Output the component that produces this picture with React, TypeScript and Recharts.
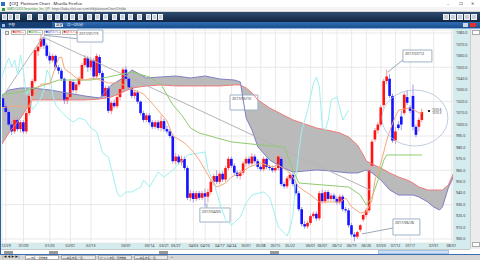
import React from 'react';
import {
  Area,
  Bar,
  CartesianGrid,
  ComposedChart,
  Line,
  ReferenceArea,
  ReferenceDot,
  ReferenceLine,
  XAxis,
  YAxis,
} from 'recharts';

const FONT = '"Noto Sans", "Noto Sans CJK JP", sans-serif';

// daily candles: [open, high, low, close]
const candles: number[][] = [
  [1023, 1026, 1013, 1015], [1016, 1019, 1009, 1011], [1011, 1013, 998, 1000], [1000, 1003, 991, 994],
  [994, 1006, 992, 1004], [1004, 1006, 994, 996], [996, 1004, 993, 1002], [1002, 1004, 992, 994],
  [994, 1012, 992, 1010], [1010, 1027, 1008, 1025], [1025, 1040, 1022, 1038], [1038, 1067, 1036, 1065],
  [1064, 1070, 1060, 1068], [1068, 1079, 1066, 1075], [1075, 1077, 1066, 1069], [1069, 1071, 1058, 1060],
  [1060, 1063, 1053, 1056], [1056, 1062, 1054, 1060], [1060, 1061, 1048, 1050], [1050, 1052, 1044, 1047],
  [1047, 1049, 1038, 1040], [1040, 1041, 1018, 1021], [1021, 1027, 1018, 1024], [1024, 1040, 1022, 1038],
  [1037, 1039, 1028, 1030], [1030, 1037, 1027, 1035], [1035, 1042, 1033, 1040], [1040, 1054, 1038, 1052],
  [1052, 1061, 1050, 1058], [1058, 1060, 1046, 1050], [1050, 1059, 1047, 1056], [1056, 1058, 1040, 1042],
  [1042, 1062, 1040, 1060], [1059, 1061, 1043, 1045], [1045, 1047, 1023, 1025], [1025, 1034, 1022, 1032],
  [1032, 1034, 1010, 1012], [1012, 1021, 1009, 1019], [1019, 1022, 1014, 1016], [1016, 1026, 1014, 1024],
  [1024, 1033, 1021, 1031], [1031, 1050, 1029, 1048], [1048, 1051, 1038, 1040], [1040, 1042, 1030, 1032],
  [1032, 1034, 1023, 1025], [1025, 1030, 1022, 1028], [1028, 1030, 1018, 1020], [1020, 1021, 1008, 1010],
  [1010, 1012, 1002, 1004], [1004, 1010, 1002, 1008], [1008, 1010, 1000, 1002], [1002, 1004, 996, 998],
  [998, 1004, 996, 1002], [1002, 1004, 995, 997], [997, 1008, 994, 1003], [1003, 1005, 994, 996],
  [996, 999, 992, 994], [994, 996, 988, 990], [990, 992, 966, 968], [968, 975, 965, 972],
  [972, 974, 965, 967], [967, 973, 964, 970], [970, 972, 960, 962], [962, 964, 934, 936],
  [936, 943, 933, 940], [940, 942, 932, 935], [935, 942, 933, 940], [940, 942, 934, 936],
  [936, 942, 934, 940], [940, 944, 928, 937], [937, 944, 932, 941], [941, 952, 939, 950],
  [950, 957, 947, 955], [955, 960, 948, 950], [950, 959, 948, 957], [957, 959, 950, 952],
  [952, 964, 950, 962], [962, 972, 960, 970], [970, 972, 962, 964], [964, 966, 956, 958],
  [958, 960, 953, 955], [955, 960, 952, 958], [958, 968, 956, 966], [966, 972, 963, 970],
  [970, 972, 964, 966], [966, 975, 964, 972], [972, 974, 966, 968], [968, 970, 961, 963],
  [963, 965, 959, 961], [961, 972, 959, 970], [970, 971, 961, 963], [963, 965, 960, 962],
  [962, 964, 958, 960], [960, 964, 958, 962], [962, 974, 960, 972], [970, 972, 946, 948],
  [948, 950, 944, 946], [946, 955, 944, 953], [953, 958, 951, 956], [956, 958, 946, 948],
  [948, 950, 938, 940], [940, 942, 924, 926], [926, 928, 911, 913], [913, 916, 909, 911],
  [911, 916, 909, 914], [914, 922, 912, 920], [920, 924, 918, 922], [922, 924, 916, 918],
  [918, 942, 916, 940], [940, 943, 931, 933], [933, 943, 931, 941], [941, 943, 933, 935],
  [935, 940, 933, 938], [938, 940, 933, 935], [935, 937, 930, 932], [932, 939, 930, 937],
  [937, 939, 924, 926], [926, 928, 923, 925], [925, 927, 910, 912], [912, 914, 902, 904],
  [904, 906, 898, 902], [902, 907, 900, 906], [908, 913, 906, 912], [917, 922, 915, 921],
  [921, 927, 919, 925], [925, 962, 923, 960], [964, 987, 962, 985], [987, 997, 985, 995],
  [995, 1002, 992, 1000], [1000, 1017, 998, 1015], [1017, 1040, 1015, 1038], [1038, 1048, 1035, 1042],
  [1040, 1044, 1023, 1025], [1025, 1027, 984, 986], [986, 998, 983, 994], [1000, 1003, 995, 997],
  [1007, 1012, 995, 1000], [1010, 1028, 1008, 1026], [1024, 1030, 1017, 1019], [1015, 1017, 1010, 1012],
  [1025, 1035, 995, 998], [998, 1000, 989, 991], [998, 1006, 994, 1004], [1004, 1014, 1002, 1011],
];

// ichimoku cloud (senkou span 1 / 2), bar index -> price
const cloudIdx = [-1, 2, 6, 10, 16, 22, 28, 33, 37, 41, 44, 49, 54, 59, 64, 69, 74, 79, 81, 83, 85, 87, 91, 95, 99, 103, 107, 112, 115, 118, 121, 123, 124, 126, 129, 132, 135, 138, 140, 142, 145, 147, 149, 150, 152, 154];
const spanA = [980.4, 992.6, 1005.7, 1021.5, 1021.5, 1021.5, 1021.5, 1022.3, 1024.1, 1028.4, 1031.9, 1033.7, 1034.6, 1033.7, 1033.7, 1033.7, 1033.7, 1034.6, 1034.6, 1031.9, 1027.6, 1021.5, 1014.5, 1009.2, 1004.0, 1000.5, 997.0, 994.4, 992.6, 989.1, 982.1, 973.4, 968.2, 965.5, 962.0, 957.7, 954.2, 951.5, 948.9, 945.4, 942.8, 942.8, 942.8, 942.8, 947.2, 958.5];
const spanB = [1024.1, 1030.2, 1031.9, 1031.9, 1030.2, 1027.6, 1024.9, 1023.2, 1034.6, 1040.7, 1047.7, 1040.7, 1041.6, 1042.4, 1040.7, 1042.4, 1039.8, 1038.9, 1037.2, 1005.7, 995.2, 980.4, 969.0, 962.9, 958.5, 959.4, 960.3, 959.4, 958.5, 957.7, 957.7, 959.4, 960.3, 957.7, 951.5, 942.8, 938.4, 938.4, 938.4, 936.7, 932.3, 928.0, 925.3, 928.0, 944.6, 955.9];

// tenkan-sen (9)
const tenkanIdx = [-1, 4, 9, 11, 13, 16, 17, 18, 19, 20, 21, 23, 25, 28, 31, 36, 40, 43, 48, 52, 56, 58, 62, 65, 67, 71, 73, 76, 78, 81, 84, 88, 92, 94, 98, 101, 105, 108, 115, 117, 119, 122, 124, 126, 127, 129, 131, 133, 135, 139, 142, 143];
const tenkan = [1014.5, 1016.2, 1015.3, 1028.4, 1035.4, 1035.4, 1043.3, 1051.2, 1058.2, 1059.0, 1048.5, 1045.0, 1040.7, 1038.9, 1040.7, 1036.3, 1036.3, 1031.9, 1026.7, 1015.3, 1003.1, 990.0, 983.9, 976.0, 969.0, 951.5, 945.4, 948.9, 954.2, 957.7, 962.9, 966.4, 962.9, 964.7, 957.7, 945.4, 938.4, 932.3, 932.3, 935.8, 928.0, 922.7, 923.6, 934.1, 951.5, 966.4, 986.5, 1001.4, 1012.7, 1014.5, 1010.1, 1010.1];

// kijun-sen (26)
const kijunIdx = [-1, 6, 13, 19, 30, 36, 44, 50, 54, 58, 61, 64, 67, 73, 78, 88, 96, 99, 101, 118, 122, 124, 126, 128, 130, 131, 143];
const kijun = [1025.8, 1028.4, 1033.7, 1038.9, 1038.9, 1041.6, 1045.9, 1041.6, 1034.6, 1017.1, 1008.3, 997.0, 992.6, 988.3, 984.8, 982.1, 980.4, 960.3, 948.9, 945.4, 938.4, 929.7, 936.7, 951.5, 969.0, 973.4, 973.4];

// chikou span (lagging line)
const chikouIdx = [-1, 1, 2, 3, 4, 5, 6, 7, 8, 9, 10, 12, 13, 14, 15, 16, 17, 18, 20, 22, 24, 26, 28, 30, 32, 34, 36, 39, 40, 42, 44, 47, 48, 50, 53, 55, 58, 63, 67, 69, 70, 72, 74, 76, 78, 81, 83, 85, 89, 91, 92, 94, 97, 98, 99, 100, 101, 102, 104, 106, 107, 108, 109, 110, 111, 112, 114, 116, 118];
const chikou = [1037.2, 1052.0, 1058.2, 1050.3, 1056.4, 1043.3, 1060.8, 1045.9, 1025.8, 1031.9, 1012.7, 1019.7, 1023.2, 1030.2, 1047.7, 1042.4, 1025.8, 1017.1, 1011.0, 1005.7, 1002.2, 1005.7, 1004.0, 997.0, 993.5, 975.1, 971.6, 940.2, 936.7, 941.1, 941.1, 945.4, 951.5, 945.4, 958.5, 954.2, 960.3, 973.4, 975.1, 976.0, 960.3, 948.9, 931.5, 916.6, 912.2, 919.2, 931.5, 938.4, 941.1, 936.7, 928.0, 910.5, 902.6, 909.6, 921.0, 953.3, 977.8, 995.2, 1012.7, 1036.3, 1041.6, 1032.8, 997.9, 995.2, 1004.0, 1021.5, 1024.1, 1004.0, 1012.7];

const tickIdx = [1, 7, 16, 23, 30, 42, 50, 55, 59, 65, 69, 74, 78, 83, 88, 93, 98, 105, 109, 114, 119, 124, 129, 134, 139, 147, 153];
const tickLabels = ['12/29', '01/09', '01/20', '02/01', '02/13', '03/01', '03/14', '03/21', '03/27', '04/03', '04/10', '04/17', '04/24', '05/01', '05/08', '05/15', '05/22', '06/01', '06/07', '06/12', '06/19', '06/26', '07/03', '07/12', '07/17', '07/31', '08/07'];
const priceTicks = [900, 910, 920, 930, 940, 950, 960, 970, 980, 990, 1000, 1010, 1020, 1030, 1040, 1050, 1060, 1070, 1080];

const candleData = candles.map(([o, h, l, c], i) => ({ i, o, h, l, c }));
const cloudData = cloudIdx.map((i, k) => ({ i, a: spanA[k], b: spanB[k], band: [spanB[k], spanA[k]] }));
const series = (idx: number[], v: number[]) => idx.map((i, k) => ({ i, v: v[k] }));

const Candle = (props: any) => {
  const { x, y, width, height, payload } = props;
  if (!payload) return null;
  const top = Math.min(y, y + height);
  const hh = Math.abs(height);
  const k = hh / (payload.h - payload.l || 1);
  const up = payload.c >= payload.o;
  const bodyTop = top + (payload.h - Math.max(payload.o, payload.c)) * k;
  const bodyH = Math.max(1, Math.abs(payload.c - payload.o) * k);
  const cx = x + width / 2;
  return (
    <g>
      <line x1={cx} x2={cx} y1={top} y2={top + hh} stroke={up ? '#f49a9a' : '#9c9cf2'} strokeWidth={1} />
      <rect x={x} y={bodyTop} width={width} height={bodyH} fill={up ? '#ff1414' : '#1414ff'} />
    </g>
  );
};

const noteLabel = (text: string) => ({ value: text, position: 'insideTopLeft' as const, offset: 2, fontSize: 3.6, fill: '#333' });

const abs = (l: number, t: number, w: number, h: number, extra: React.CSSProperties = {}): React.CSSProperties => ({
  position: 'absolute', left: l, top: t, width: w, height: h, boxSizing: 'border-box', ...extra,
});

const toolIcons = [2, 8, 15, 27, 38, 47, 55, 63, 70, 78, 87, 95, 103, 112, 120, 128, 137, 146, 152, 158];

const legendTag = (l: number, w: number, color: string): React.CSSProperties =>
  abs(l, 0, w, 4.5, { border: '1px solid #bbb', background: '#fff', color, paddingLeft: 0.5 });

const tabStyle = (l: number, w: number, bg: string): React.CSSProperties =>
  abs(l, 0, w, 5, { background: bg, border: '1px solid #aaa', paddingLeft: 0.5, fontSize: 2.3 });

const Chrome = () => (
  <>
    {/* title bar */}
    <div style={abs(0, 0, 480, 7, { background: '#fff', fontSize: 4.2, lineHeight: '7px', color: '#222' })}>
      <span style={abs(1, 1.5, 4, 4, { background: '#2f6fc4' })} />
      <span style={{ position: 'absolute', left: 7, whiteSpace: 'nowrap' }}>【CX】Platinum Chart - Mozilla Firefox</span>
      <span style={{ position: 'absolute', left: 447 }}>–</span>
      <span style={{ position: 'absolute', left: 459 }}>❐</span>
      <span style={{ position: 'absolute', left: 471 }}>✕</span>
    </div>
    {/* address bar */}
    <div style={abs(0, 7, 480, 5, { background: '#f4f4f4', borderBottom: '1px solid #d8d8d8', fontSize: 3, lineHeight: '5px', whiteSpace: 'nowrap' })}>
      <span style={abs(2, 1, 3, 3, { background: '#3a9a3a' })} />
      <span style={{ position: 'absolute', left: 7, color: '#2a8a2a' }}>GMO CLICK Securities, Inc. (JP)</span>
      <span style={{ position: 'absolute', left: 52, color: '#555' }}>https://kabu.click-sec.com/cfd/platinumChart/ChtIdx</span>
    </div>
    {/* toolbar */}
    <div style={abs(0, 12, 480, 10, { background: 'linear-gradient(#2e4b70, #0f2440)' })}>
      {toolIcons.map((x) => (
        <span key={x} style={abs(x, 2, 5, 6, { background: '#c9ced6', border: '1px solid #eef1f5' })} />
      ))}
      {[443, 450, 457, 464, 471].map((x) => (
        <span key={x} style={abs(x, 2, 6, 6, { background: '#c9ced6', border: '1px solid #eef1f5' })} />
      ))}
    </div>
    {/* tab bar */}
    <div style={abs(0, 22, 480, 6, { background: 'linear-gradient(#2f6db5, #1c4f8f)', fontSize: 3.4, lineHeight: '6px', color: '#fff', whiteSpace: 'nowrap' })}>
      <span style={abs(0, 0, 52, 6, { background: '#163e72' })} />
      <span style={abs(2, 1.5, 3, 3, { background: '#9cc0ea' })} />
      <span style={{ position: 'absolute', left: 8 }}>予想</span>
      <span style={abs(55, 1, 8, 4, { background: '#e8eef6', color: '#123', lineHeight: '4px', paddingLeft: 1 })}>設定</span>
      <span style={{ position: 'absolute', left: 67 }}>ロー(25分)</span>
      <span style={abs(463, 1, 5, 4, { background: '#d0d6de' })} />
      <span style={abs(470, 1, 6, 4, { background: '#e03030' })} />
    </div>
    <div style={abs(0, 28, 480, 1, { background: '#86aedd' })} />
    {/* left frame */}
    <div style={abs(0, 29, 1, 225, { background: '#2a62a8' })} />
    {/* legend row */}
    <div style={abs(3, 30, 73, 5, { fontSize: 2.2, lineHeight: '3.5px', whiteSpace: 'nowrap' })}>
      <span style={abs(2, 0.5, 4, 4, { background: '#eee', border: '1px solid #999' })} />
      <span style={legendTag(8, 15, '#e02020')}>■転換線(9)</span>
      <span style={legendTag(24, 16, '#3a9a2a')}>■基準線(26)</span>
      <span style={legendTag(41, 17, '#2020d0')}>■先行スパン1</span>
      <span style={legendTag(59, 14.5, '#d02020')}>■先行スパン2</span>
    </div>
    {/* scrollbar */}
    <div style={abs(470, 29, 10, 220, { background: '#ececec', borderLeft: '1px solid #ccc' })}>
      <span style={abs(1, 1, 8, 5, { background: '#fff', border: '1px solid #aaa' })} />
      <span style={abs(1, 213, 8, 5, { background: '#fff', border: '1px solid #aaa' })} />
    </div>
    {/* navigator */}
    <div style={abs(1, 249, 469, 5, { background: '#fff', borderTop: '1px solid #c8c8c8' })}>
      <span style={abs(377, 0, 71, 4, { background: '#cddff5', border: '1px solid #a9c3e6' })} />
      {[3, 48, 158, 269].map((x) => (
        <span key={x} style={abs(x, 1, 9, 3, { background: '#9a9a9a' })} />
      ))}
    </div>
    {/* bottom tabs */}
    <div style={abs(0, 254, 480, 6, { background: '#d6d6d6', borderTop: '1px solid #3a6fb5', fontSize: 3, lineHeight: '5px', color: '#222', whiteSpace: 'nowrap' })}>
      <span style={{ position: 'absolute', left: 2 }}>|◀ ◀ ▶ ▶|</span>
      <span style={tabStyle(25, 34, '#fff')}>PLT 日足 一目均衡表</span>
      <span style={tabStyle(61, 35, '#e8e8e8')}>[CX]白金(日足) 一目…</span>
      <span style={tabStyle(98, 34, '#e8e8e8')}>ゴールド(日足)一目均衡表</span>
      <span style={tabStyle(134, 34, '#e8e8e8')}>[CX]白金(日足) 一目…</span>
      <span style={{ position: 'absolute', left: 171 }}>+</span>
    </div>
  </>
);

export default function App() {
  return (
    <div style={abs(0, 0, 480, 260, { overflow: 'hidden', background: '#fff', fontFamily: FONT })}>
      <div style={abs(453, 29, 17, 220, { background: '#d5ecef' })} />
      <div style={abs(0, 243, 453, 6, { background: '#d5ecef' })} />
      <div style={abs(0, 0, 480, 260)}>
        <ComposedChart width={480} height={260} data={candleData} margin={{ top: 30, right: 10, bottom: 11, left: 2 }}>
          <CartesianGrid stroke="#e3e3e3" strokeWidth={0.8} />
          <XAxis
            dataKey="i"
            type="number"
            domain={[-0.34, 153.6]}
            allowDataOverflow
            ticks={tickIdx}
            tickFormatter={(v: number) => tickLabels[tickIdx.indexOf(v)] ?? ''}
            interval={0}
            height={6}
            tickSize={0}
            tickMargin={1}
            axisLine={false}
            tick={{ fontSize: 3.6, fill: '#333', fontFamily: FONT }}
          />
          <YAxis
            orientation="right"
            type="number"
            domain={[896.5, 1082.6]}
            allowDataOverflow
            ticks={priceTicks}
            tickFormatter={(v: number) => v.toFixed(1)}
            width={17}
            tickSize={0}
            tickMargin={3}
            axisLine={false}
            tick={{ fontSize: 3.6, fill: '#333', fontFamily: FONT }}
          />
          <Area data={cloudData} dataKey="band" type="linear" stroke="none" fill="#bababa" fillOpacity={1} isAnimationActive={false} />
          <Line data={cloudData} dataKey="a" type="linear" stroke="#f07a7a" strokeWidth={1} dot={false} activeDot={false} isAnimationActive={false} />
          <Line data={cloudData} dataKey="b" type="linear" stroke="#7f7fc4" strokeWidth={1} dot={false} activeDot={false} isAnimationActive={false} />
          <ReferenceLine segment={[{ x: -0.5, y: 1023 }, { x: 13.6, y: 1076.5 }]} stroke="#b4b4b4" ifOverflow="visible" />
          <ReferenceLine segment={[{ x: 13.6, y: 1076.5 }, { x: 125.3, y: 942.8 }]} stroke="#b4b4b4" ifOverflow="visible" />
          <Line data={series(chikouIdx, chikou)} dataKey="v" type="linear" stroke="#9ff0f0" strokeWidth={1} dot={false} activeDot={false} isAnimationActive={false} />
          <Line data={series(kijunIdx, kijun)} dataKey="v" type="linear" stroke="#8fcb6f" strokeWidth={1} dot={false} activeDot={false} isAnimationActive={false} />
          <Line data={series(tenkanIdx, tenkan)} dataKey="v" type="linear" stroke="#f5a77a" strokeWidth={1} dot={false} activeDot={false} isAnimationActive={false} />
          <Bar dataKey={(d: any) => [d.l, d.h]} barSize={3} shape={Candle} isAnimationActive={false} />
          <ReferenceLine segment={[{ x: 25.3, y: 1075 }, { x: 14, y: 1078 }]} stroke="#9aaabb" ifOverflow="visible" />
          <ReferenceLine segment={[{ x: 136.5, y: 1056.4 }, { x: 131.4, y: 1046 }]} stroke="#9aaabb" ifOverflow="visible" />
          <ReferenceLine segment={[{ x: 133.1, y: 909.6 }, { x: 122.5, y: 904.4 }]} stroke="#9aaabb" ifOverflow="visible" />
          <ReferenceLine segment={[{ x: 69.6, y: 927.1 }, { x: 69.6, y: 931 }]} stroke="#9aaabb" ifOverflow="visible" />
          <ReferenceArea x1={25.3} x2={34.1} y1={1072.1} y2={1082.6} fill="#fff" fillOpacity={1} stroke="#9fb3c8" ifOverflow="visible" label={noteLabel('2017/01/19')} />
          <ReferenceArea x1={77.5} x2={87} y1={1012.7} y2={1025.8} fill="#fff" fillOpacity={1} stroke="#9fb3c8" ifOverflow="visible" label={noteLabel('2017/05/10')} />
          <ReferenceArea x1={67.2} x2={77.5} y1={914.8} y2={927.1} fill="#fff" fillOpacity={1} stroke="#9fb3c8" ifOverflow="visible" label={noteLabel('2017/04/05')} />
          <ReferenceArea x1={133.1} x2={142.3} y1={903.5} y2={917.5} fill="#fff" fillOpacity={1} stroke="#9fb3c8" ifOverflow="visible" label={noteLabel('2017/06/26')} />
          <ReferenceArea x1={136.5} x2={146.4} y1={1054.7} y2={1065.1} fill="#fff" fillOpacity={1} stroke="#9fb3c8" ifOverflow="visible" label={noteLabel('2017/07/12')} />
          <ReferenceDot
            x={140.6}
            y={1005.7}
            ifOverflow="visible"
            shape={(p: any) => <ellipse cx={p.cx} cy={p.cy} rx={33} ry={28} fill="none" stroke="#aebfd8" strokeWidth={0.8} />}
          />
          <ReferenceDot
            x={145.4}
            y={1011.8}
            ifOverflow="visible"
            shape={(p: any) => (
              <g fontSize={3} fill="#333" fontFamily={FONT}>
                <rect x={p.cx - 1} y={p.cy - 1} width={2} height={2} fill="#222" />
                <text x={p.cx + 3} y={p.cy - 0.5}>1013.6</text>
                <text x={p.cx + 3} y={p.cy + 3}>1013.3</text>
              </g>
            )}
          />
        </ComposedChart>
      </div>
      <Chrome />
    </div>
  );
}
